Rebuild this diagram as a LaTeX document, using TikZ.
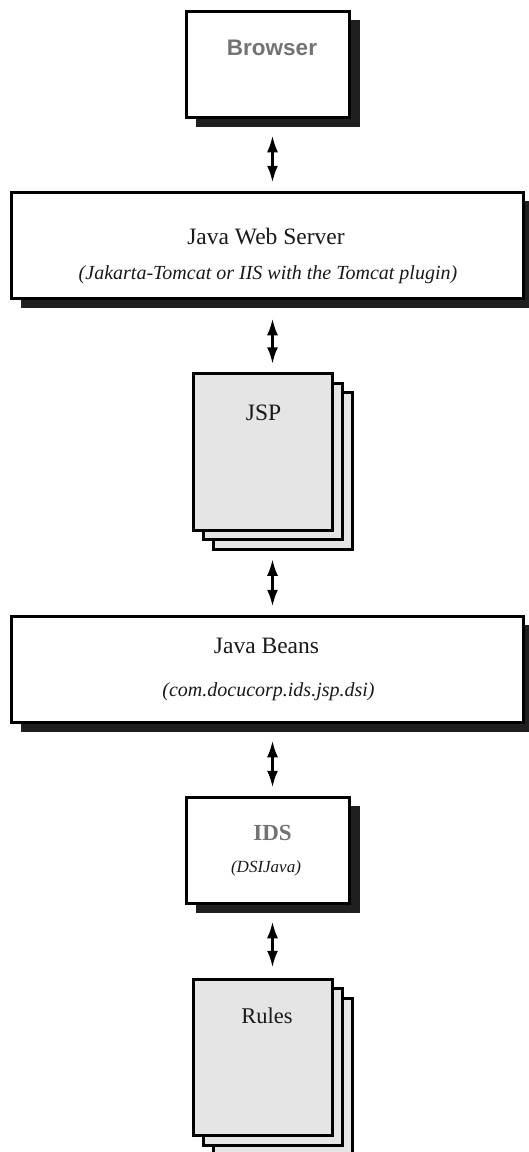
\documentclass[tikz,border=0pt]{standalone}
\usepackage{fontspec}
\setmainfont{Liberation Serif}
\newfontfamily\brwsans{Liberation Sans}
\usetikzlibrary{arrows.meta, positioning, calc, shadows}

\begin{document}
\begin{tikzpicture}[x=1pt, y=-1pt,
    box/.style={draw, line width=3pt, fill=white, inner sep=0pt,
        drop shadow={shadow xshift=10pt, shadow yshift=-9pt, fill=black!88, opacity=1}},
    pages/.style={draw, line width=3pt, fill=black!10, inner sep=0pt,
        minimum width=139.5pt, minimum height=156.5pt,
        copy shadow={shadow xshift=20pt, shadow yshift=-19pt, fill=black!10, line width=3pt},
        copy shadow={shadow xshift=10pt, shadow yshift=-9.5pt, fill=black!10, line width=3pt}},
    txt/.style={anchor=base, inner sep=0pt, text=black!90, font=\fontsize{23.5}{28}\selectfont},
    sub/.style={txt, font=\fontsize{20}{24}\selectfont\itshape},
    link/.style={{Latex[length=17pt,width=11pt]}-{Latex[length=17pt,width=11pt]},
        line width=3pt, shorten <=16pt, shorten >=8pt}]

    \useasboundingbox (0,0) rectangle (528,1152);

    \node[box, minimum width=163.5pt, minimum height=106.5pt] (brw) at (268,64.5) {};
    \node[box, minimum width=512.5pt, minimum height=106.5pt] (jws) at (267.5,245.5) {};
    \node[pages] (jsp) at (263,452) {};
    \node[box, minimum width=512.5pt, minimum height=106.5pt] (jb) at (267.5,669.5) {};
    \node[box, minimum width=163.5pt, minimum height=106.5pt] (ids) at (268,850.5) {};
    \node[pages] (rul) at (263,1057.5) {};

    \node[txt, text=black!55, font=\brwsans\bfseries\fontsize{22.5}{27}\selectfont] (brwname) at (272,55) {Browser};
    \node[txt] (jwsname) at (266,244) {Java Web Server};
    \node[sub] (jwsnote) at (268,279) {(Jakarta-Tomcat or IIS with the Tomcat plugin)};
    \node[txt] (jspname) at (263.5,420) {JSP};
    \node[txt] (jbname) at (266.5,653) {Java Beans};
    \node[sub] (jbnote) at (268.5,696) {(com.docucorp.ids.jsp.dsi)};
    \node[txt, text=black!55, font=\bfseries\fontsize{23}{27}\selectfont] (idsname) at (272.5,840) {IDS};
    \node[sub, font=\fontsize{17}{21}\selectfont\itshape] (idsnote) at (266,872) {(DSIJava)};
    \node[txt, font=\fontsize{22.5}{27}\selectfont] (rulname) at (267,1023) {Rules};

    \coordinate (ax) at (272.5,0);
    \draw[link] (brw.south -| ax) -- (jws.north -| ax);
    \draw[link, shorten <=18pt] (jws.south -| ax) -- (jsp.north -| ax);
    \draw[link, shorten <=27pt] (jsp.south -| ax) -- (jb.north -| ax);
    \draw[link] (jb.south -| ax) -- (ids.north -| ax);
    \draw[link, shorten >=10pt] (ids.south -| ax) -- (rul.north -| ax);
\end{tikzpicture}
\end{document}
